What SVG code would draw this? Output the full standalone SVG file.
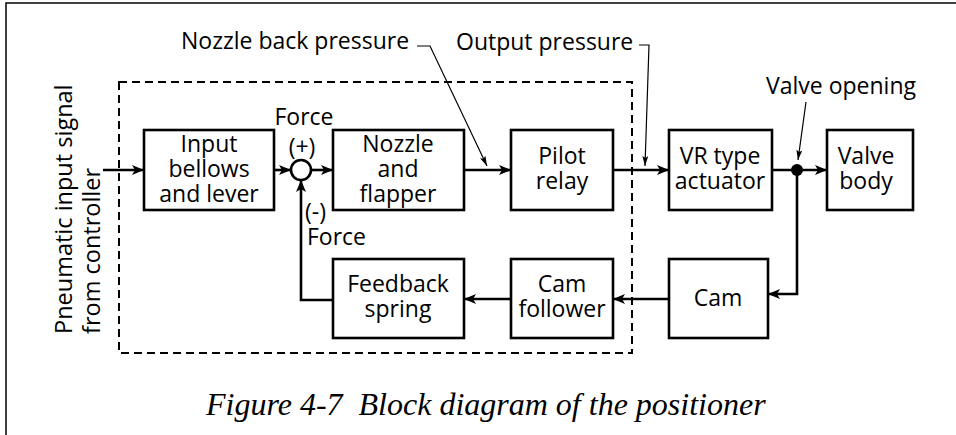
<svg xmlns="http://www.w3.org/2000/svg" width="956" height="435" viewBox="0 0 956 435">
<style>
.box{fill:#fff;stroke:#000;stroke-width:2.6}
.t{font-family:"Open Sans","Noto Sans","Liberation Sans",sans-serif;font-size:23px;fill:#000}
.v{font-size:23.5px}
.c{text-anchor:middle}
.w{fill:none;stroke:#000;stroke-width:2.6}
.ld{fill:none;stroke:#000;stroke-width:1.2}
.cap{font-family:"Liberation Serif","Times New Roman",serif;font-style:italic;font-size:32px;fill:#000;white-space:pre}
</style>
<defs>
<marker id="ah" viewBox="0 0 12 10" refX="12" refY="5" markerWidth="12" markerHeight="10" markerUnits="userSpaceOnUse" orient="auto">
<path d="M0,0 L12,5 L0,10 L3,5 z" fill="#000"/>
</marker>
<marker id="la" viewBox="0 0 10 6" refX="10" refY="3" markerWidth="10" markerHeight="6" markerUnits="userSpaceOnUse" orient="auto">
<path d="M0,0 L10,3 L0,6 L2,3 z" fill="#000"/>
</marker>
</defs>
<rect width="956" height="435" fill="#fff"/>
<path d="M6,435 V3 H956" fill="none" stroke="#000" stroke-width="1.5"/>
<rect id="positioner-boundary" x="119" y="82" width="513" height="271" fill="none" stroke="#000" stroke-width="2" stroke-dasharray="8,5"/>

<g id="connectors">
<path class="w" d="M103,170 H144" marker-end="url(#ah)"/>
<path class="w" d="M274,170 H291" marker-end="url(#ah)"/>
<path class="w" d="M311,170 H333" marker-end="url(#ah)"/>
<path class="w" d="M464,170 H511" marker-end="url(#ah)"/>
<path class="w" d="M613,170 H669" marker-end="url(#ah)"/>
<path class="w" d="M772,170 H827" marker-end="url(#ah)"/>
<path class="w" d="M797,170 V294 H768" marker-end="url(#ah)"/>
<path class="w" d="M669,299 H613" marker-end="url(#ah)"/>
<path class="w" d="M511,299 H464" marker-end="url(#ah)"/>
<path class="w" d="M333,300 H301 V180" marker-end="url(#ah)"/>
<circle cx="797" cy="170" r="6" fill="#000"/>
<path class="ld" d="M417,46 H430 L487,166" marker-end="url(#la)"/>
<path class="ld" d="M639,45 H649 L645,166" marker-end="url(#la)"/>
<path class="ld" d="M806,102 L798,160" marker-end="url(#la)"/>
</g>

<g id="summing-junction">
<circle cx="301" cy="170" r="10" fill="#fff" stroke="#000" stroke-width="2.6"/>
<text class="t c" x="304" y="125">Force</text>
<text class="t c" x="302" y="155">(+)</text>
<text class="t" x="305" y="220">(-)</text>
<text class="t" x="307" y="245">Force</text>
</g>

<g id="input-bellows">
<rect class="box" x="144" y="130" width="130" height="80"/>
<text class="t c" x="209" y="152">Input</text>
<text class="t c" x="209" y="177">bellows</text>
<text class="t c" x="209" y="202">and lever</text>
</g>
<g id="nozzle-flapper">
<rect class="box" x="333" y="130" width="131" height="80"/>
<text class="t c" x="398" y="152">Nozzle</text>
<text class="t c" x="398" y="177">and</text>
<text class="t c" x="398" y="202">flapper</text>
</g>
<g id="pilot-relay">
<rect class="box" x="511" y="130" width="102" height="80"/>
<text class="t c" x="562" y="164">Pilot</text>
<text class="t c" x="562" y="189">relay</text>
</g>
<g id="vr-actuator">
<rect class="box" x="669" y="130" width="103" height="80"/>
<text class="t c" x="720" y="164">VR type</text>
<text class="t c" x="720" y="189">actuator</text>
</g>
<g id="valve-body">
<rect class="box" x="827" y="130" width="86" height="80"/>
<text class="t c" x="866" y="164">Valve</text>
<text class="t c" x="866" y="189">body</text>
</g>
<g id="feedback-spring">
<rect class="box" x="333" y="259" width="131" height="79"/>
<text class="t c" x="398" y="292">Feedback</text>
<text class="t c" x="398" y="317">spring</text>
</g>
<g id="cam-follower">
<rect class="box" x="511" y="259" width="102" height="79"/>
<text class="t c" x="562" y="292">Cam</text>
<text class="t c" x="562" y="317">follower</text>
</g>
<g id="cam">
<rect class="box" x="669" y="259" width="99" height="79"/>
<text class="t c" x="718" y="306">Cam</text>
</g>

<g id="labels">
<text class="t" x="181" y="49">Nozzle back pressure</text>
<text class="t" x="456" y="50">Output pressure</text>
<text class="t" x="766" y="94">Valve opening</text>
<text class="t v" transform="translate(72,334) rotate(-90)">Pneumatic input signal</text>
<text class="t v" transform="translate(100,334) rotate(-90)">from controller</text>
</g>
<text class="cap" x="206" y="415">Figure 4-7  Block diagram of the positioner</text>
</svg>
